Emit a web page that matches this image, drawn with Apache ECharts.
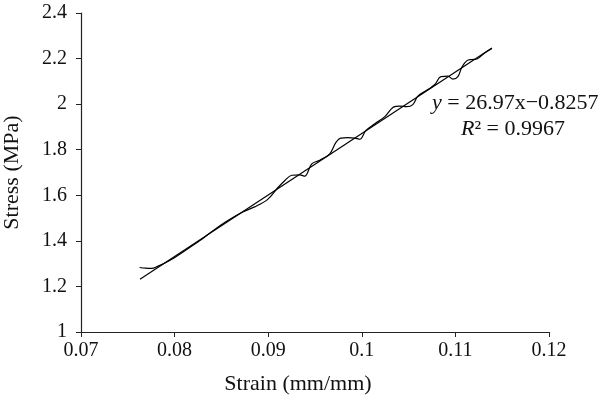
<!DOCTYPE html>
<html>
<head>
<meta charset="utf-8">
<script src="https://cdn.jsdelivr.net/npm/echarts@6/dist/echarts.min.js"></script>
<style>
  html, body { margin: 0; padding: 0; background: #fff; }
  #chart { width: 600px; height: 399px; }
</style>
</head>
<body>
<div id="chart"></div>
<script>
// measured curve (strain, stress)
const strain = [
  0.07626, 0.0769, 0.07754, 0.07818, 0.07947, 0.08107, 0.08267, 0.08385,
  0.08535, 0.08727, 0.08856, 0.08995, 0.09102, 0.09176, 0.09251, 0.09337,
  0.0939, 0.09465, 0.09551, 0.09658, 0.09722, 0.09775, 0.0985, 0.09925,
  0.09979, 0.10043, 0.10139, 0.10246, 0.10332, 0.10406, 0.10481, 0.10545,
  0.10599, 0.10706, 0.10781, 0.10845, 0.1092, 0.10973, 0.11027, 0.1107,
  0.11123, 0.11176, 0.1123, 0.11305, 0.1139
];
const stress = [
  1.283, 1.280, 1.279, 1.288, 1.314, 1.356, 1.400, 1.437,
  1.481, 1.527, 1.549, 1.582, 1.633, 1.664, 1.688, 1.690,
  1.684, 1.738, 1.754, 1.782, 1.831, 1.851, 1.853, 1.851,
  1.846, 1.884, 1.914, 1.945, 1.985, 1.991, 1.989, 1.998,
  2.035, 2.064, 2.086, 2.121, 2.123, 2.110, 2.121, 2.163,
  2.191, 2.196, 2.198, 2.222, 2.244
];
// linear fit end points
const fitStrain = [0.0763, 0.1139];
const fitStress = [1.232, 2.246];

const xTicks = { min: 0.07, max: 0.12, interval: 0.01 };
const yTicks = { min: 1, max: 2.4, interval: 0.2 };

const font = '"Liberation Serif", "DejaVu Serif", serif';

const chart = echarts.init(document.getElementById("chart"));

const axisCommon = {
  nameLocation: "middle",
  nameTextStyle: { color: "#111", fontSize: 22, fontFamily: font },
  axisLine: { show: true, lineStyle: { color: "#222", width: 1.2 } },
  axisTick: { show: true, inside: false, length: 5, lineStyle: { color: "#222" } },
  axisLabel: { color: "#111", fontSize: 20, fontFamily: font },
  splitLine: { show: false },
};

chart.setOption({
  animation: false,
  backgroundColor: "#fff",
  grid: {
    left: 81, right: 51, top: 13, bottom: 67,
    containLabel: false,
    outerBoundsMode: "none",
  },
  xAxis: Object.assign({}, axisCommon, {
    type: "value",
    name: "Strain (mm/mm)",
    nameGap: 41,
    nameTextStyle: Object.assign({}, axisCommon.nameTextStyle, { padding: [0, 34, 0, 0] }),
    axisLabel: Object.assign({}, axisCommon.axisLabel, { margin: 9 }),
    min: xTicks.min,
    max: xTicks.max,
    interval: xTicks.interval,
  }),
  yAxis: Object.assign({}, axisCommon, {
    type: "value",
    name: "Stress (MPa)",
    nameGap: 58,
    axisLabel: Object.assign({}, axisCommon.axisLabel, { margin: 14 }),
    min: yTicks.min,
    max: yTicks.max,
    interval: yTicks.interval,
  }),
  series: [
    {
      type: "line",
      data: strain.map((x, i) => [x, stress[i]]),
      showSymbol: false,
      smooth: 0.35,
      lineStyle: { color: "#000", width: 1.2 },
    },
    {
      type: "line",
      data: fitStrain.map((x, i) => [x, fitStress[i]]),
      showSymbol: false,
      lineStyle: { color: "#000", width: 1.2 },
    },
  ],
  graphic: [
    {
      type: "text",
      left: 432,
      top: 92,
      style: {
        text: "{i|y} = 26.97x\u22120.8257",
        fill: "#111",
        fontSize: 22,
        fontFamily: font,
        rich: { i: { fontStyle: "italic", fontSize: 22, fontFamily: font } },
      },
    },
    {
      type: "text",
      left: 461,
      top: 118,
      style: {
        text: "{i|R}\u00b2 = 0.9967",
        fill: "#111",
        fontSize: 22,
        fontFamily: font,
        rich: { i: { fontStyle: "italic", fontSize: 22, fontFamily: font } },
      },
    },
  ],
});
</script>
</body>
</html>
